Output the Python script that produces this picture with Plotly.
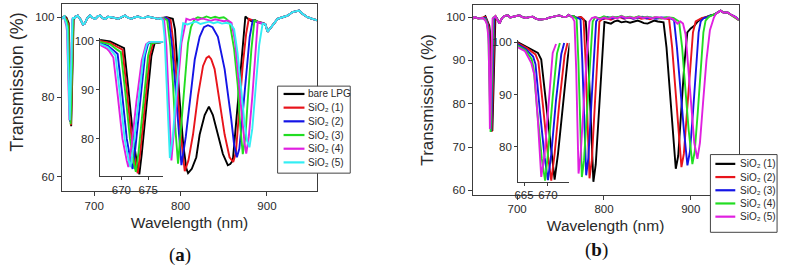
import plotly.graph_objects as go

W, H = 791, 270

# ---------------- Panel (a) data: wavelength (nm), transmission (%) ----------------
a_names = ["bare LPG", "SiO\u2082 (1)", "SiO\u2082 (2)", "SiO\u2082 (3)", "SiO\u2082 (4)", "SiO\u2082 (5)"]
a_colors = ["#000000", "#e8141b", "#1414e6", "#22dd22", "#e020e0", "#33eef4"]

a_base_left = [(662.4, 99.7), (664.0, 100.1), (665.5, 100.2)]

a_bare_670 = [(666.0, 100.2), (667.9, 99.9), (669.8, 98.9), (670.5, 98.5), (671.3, 90.2), (672.2, 80.2),
              (673.0, 74.2), (673.35, 72.7), (673.8, 76.9), (674.7, 86.9), (675.6, 96.9), (676.2, 99.5),
              (677.8, 99.8)]
a_s1_670 = [(666.0, 100.0), (667.9, 99.6), (669.5, 98.6), (670.2, 98.2), (671.0, 90.0), (671.9, 80.0),
            (672.7, 74.3), (673.05, 72.9), (673.5, 77.0), (674.4, 87.0), (675.3, 96.9), (675.9, 99.5),
            (677.8, 99.8)]
a_s2_670 = [(666.0, 99.6), (667.5, 99.0), (668.6, 98.0), (669.3, 97.3), (670.1, 89.6), (671.0, 80.0),
            (671.8, 75.0), (672.1, 73.8), (672.6, 78.0), (673.5, 88.0), (674.4, 97.0), (675.0, 99.5),
            (677.8, 99.8)]
a_s3_670 = [(666.0, 99.8), (667.9, 99.3), (669.2, 98.2), (669.9, 97.7), (670.7, 89.8), (671.6, 80.0),
            (672.4, 74.5), (672.7, 73.2), (673.2, 77.2), (674.1, 87.2), (675.0, 97.0), (675.6, 99.5),
            (677.8, 99.8)]
a_s4_670 = [(666.0, 99.2), (667.3, 98.4), (667.8, 97.8), (668.5, 96.6), (669.3, 89.0), (670.2, 80.0),
            (671.0, 75.5), (671.3, 74.2), (671.9, 78.6), (672.8, 87.5), (673.8, 96.0), (674.6, 99.3),
            (675.2, 99.8), (677.8, 99.8)]
a_s5_670 = [(666.0, 99.4), (667.5, 98.7), (668.2, 97.9), (668.9, 97.0), (669.7, 89.4), (670.6, 80.0),
            (671.4, 75.3), (671.7, 74.2), (672.25, 78.4), (673.2, 88.0), (674.1, 96.5), (674.8, 99.4),
            (675.4, 99.8), (677.8, 99.8)]

a_base_mid = [(678.5, 100.2), (681.0, 100.4), (684.0, 99.5), (687.0, 98.2), (689.0, 98.4), (692.0, 99.8),
              (695.4, 100.5), (698.0, 99.9), (701.2, 99.6), (704.0, 100.2), (707.0, 100.4), (710.0, 99.8),
              (712.7, 99.6), (716.0, 100.1), (720.3, 100.0), (724.0, 99.8), (728.0, 99.6), (732.0, 100.1),
              (735.7, 100.4), (739.0, 99.9), (743.3, 99.6), (747.0, 100.0), (751.0, 100.2), (755.0, 99.8),
              (758.8, 99.9), (762.0, 100.2), (766.4, 100.0), (770.0, 99.8), (774.0, 99.6), (777.0, 99.8)]

a_bare_main = [(780, 99.8), (784, 100.0), (788, 99.7), (791, 99.6), (793.5, 97.0), (795.2, 91.0), (799, 79.0),
               (803, 68.2), (806.7, 62.1), (808.7, 60.9), (813, 62.0), (818.2, 64.9), (822.1, 70.6),
               (827.9, 75.5), (832.8, 77.6), (837.4, 75.5), (843.2, 70.6), (849, 65.7), (854.7, 62.9),
               (857.5, 63.2), (860.5, 64.1), (866.2, 78.8), (870, 89.0), (873, 96.0), (875, 100.2),
               (878, 99.6), (882, 99.0), (886, 99.3), (890, 98.8), (895, 98.6), (898, 98.3)]
a_s1_main = [(780, 99.8), (784, 99.9), (788.5, 99.3), (792, 93.0), (796, 83.0), (800, 71.0), (804.8, 61.4),
             (809, 64.0), (814.4, 70.6), (820.2, 80.4), (826, 87.8), (830, 89.8), (832.8, 90.2), (835.5, 89.5),
             (839.4, 87.0), (845.2, 78.8), (851, 70.6), (856.7, 64.9), (861, 63.7), (864, 66.0), (868.2, 78.8),
             (872, 88.0), (876, 96.0), (879, 99.6), (883, 99.3), (888, 99.0), (893, 98.6), (898, 98.3)]
a_s2_main = [(780, 99.8), (783, 99.9), (786.5, 99.3), (790, 93.0), (793.5, 84.0), (797, 73.0), (801, 62.9),
             (806, 70.0), (810.6, 78.8), (816.4, 89.4), (822.1, 95.1), (827, 97.5), (831.7, 98.0), (837, 97.5),
             (843.2, 95.1), (851, 87.0), (858.5, 74.7), (862, 68.0), (865.2, 64.9), (868, 67.0), (872, 76.0),
             (876, 86.0), (880, 95.0), (883.5, 99.2), (888, 98.8), (893, 98.5), (898, 98.3)]
a_s3_main = [(780, 99.8), (784.5, 99.3), (788, 93.0), (791, 84.0), (794, 72.0), (797.1, 63.3), (802.9, 78.8),
             (808.6, 93.5), (812, 97.5), (816.4, 99.6), (820, 100.0), (825, 99.7), (830, 100.2), (835, 99.8),
             (840, 100.1), (845, 99.8), (850, 100.0), (853, 99.6), (857, 98.5), (862, 92.0), (866.2, 82.9),
             (869, 73.0), (872, 65.7), (875, 70.0), (878, 80.0), (882, 92.0), (885.5, 99.2), (890, 98.8),
             (895, 98.4), (898, 98.3)]
a_s4_main = [(780, 99.6), (781, 99.3), (783.5, 93.0), (786, 81.0), (788.3, 69.0), (789.4, 64.1), (795.2, 78.8),
             (801, 93.5), (806.7, 99.6), (811, 99.3), (815, 99.6), (820, 99.3), (825, 99.7), (830, 99.4),
             (835, 99.1), (840, 99.5), (845, 99.3), (850, 99.0), (855, 99.2), (859, 98.6), (863, 94.0),
             (867, 85.0), (871, 75.0), (874, 68.5), (876, 65.8), (879, 70.0), (883, 80.0), (886.5, 92.0),
             (889.3, 98.8), (894, 98.5), (898, 98.3)]
a_s5_main = [(779.5, 99.2), (781.5, 95.0), (784, 84.0), (786, 72.0), (787.6, 64.7), (791, 70.0), (795, 80.0),
             (799, 92.0), (803, 98.5), (808, 98.2), (813, 98.6), (818, 98.9), (823, 98.3), (828, 98.6),
             (833, 98.9), (838, 98.5), (843, 98.8), (848, 98.4), (853, 98.6), (858, 98.3), (862, 97.0),
             (866, 91.0), (870, 82.0), (874, 73.5), (877, 69.0), (879.7, 67.4), (883, 72.0), (887, 82.0),
             (891, 93.0), (895, 98.4), (898, 98.3)]

a_base_right = [(900.8, 96.4), (906.6, 98.0), (912.3, 99.6), (918.0, 100.0), (923.8, 100.4), (929.6, 101.3),
                (937.3, 101.7), (941.0, 100.9), (946.9, 100.0), (952.6, 99.6), (958.4, 99.2)]

a_dips670 = [a_bare_670, a_s1_670, a_s2_670, a_s3_670, a_s4_670, a_s5_670]
a_mains = [a_bare_main, a_s1_main, a_s2_main, a_s3_main, a_s4_main, a_s5_main]

# ---------------- Panel (b) data ----------------
b_names = ["SiO\u2082 (1)", "SiO\u2082 (2)", "SiO\u2082 (3)", "SiO\u2082 (4)", "SiO\u2082 (5)"]
b_colors = ["#000000", "#e8141b", "#1414e6", "#22dd22", "#e020e0"]

b_base_left = [(648.0, 99.6), (651.0, 100.0), (655.0, 99.7), (660.5, 99.8)]

b_s1_670 = [(663.4, 100.2), (665.8, 99.1), (667.9, 98.0), (668.6, 96.7), (669.6, 88.0), (670.7, 78.6),
            (671.4, 73.7), (672.1, 78.6), (673.1, 88.0), (674.2, 97.4), (674.6, 99.9)]
b_s2_670 = [(663.4, 100.0), (665.6, 98.9), (667.4, 97.7), (668.0, 96.3), (669.0, 87.5), (670.0, 78.3),
            (670.7, 73.5), (671.4, 78.6), (672.4, 88.5), (673.5, 97.6), (674.1, 99.9)]
b_s3_670 = [(663.4, 99.8), (665.4, 98.7), (666.9, 97.3), (667.4, 95.8), (668.3, 87.0), (669.3, 78.0),
            (670.0, 73.6), (670.7, 78.6), (671.7, 89.0), (672.8, 97.8), (673.4, 99.9)]
b_s4_670 = [(663.4, 99.5), (665.3, 98.5), (666.6, 96.8), (667.0, 95.0), (667.8, 86.5), (668.7, 77.8),
            (669.4, 73.5), (670.0, 78.6), (671.0, 89.5), (671.9, 97.9), (672.5, 99.9)]
b_s5_670 = [(663.4, 99.2), (665.2, 98.3), (666.5, 96.1), (667.2, 93.6), (667.9, 84.9), (668.6, 74.2),
            (669.3, 78.6), (670.3, 91.1), (671.0, 98.0), (671.7, 99.7)]

b_base_mid = [(675.0, 100.2), (677.0, 99.6), (679.7, 98.5), (681.5, 99.4), (683.5, 100.0), (686.0, 100.3),
              (689.2, 100.4), (692.0, 99.9), (695.0, 100.0), (699.0, 100.3), (702.6, 100.4), (706.0, 100.0),
              (710.3, 99.8), (714.0, 100.0), (717.9, 100.1), (721.0, 99.7), (725.6, 99.4), (729.0, 99.5),
              (733.3, 99.6), (737.0, 99.9), (740.8, 100.1), (744.0, 100.3), (748.5, 100.4), (752.0, 100.1),
              (756.2, 100.0), (759.0, 100.5), (762.0, 100.2)]

b_s1_main = [(765, 100.2), (769, 99.8), (773, 100.0), (776, 99.5), (779, 99.0), (782, 90.0), (785, 75.0),
             (787.8, 62.0), (790.5, 66.0), (793.5, 76.0), (797, 89.0), (800.5, 98.9), (804, 98.7), (808, 98.5),
             (812, 99.0), (816, 99.2), (820, 98.8), (825, 99.0), (830, 98.7), (835, 98.9), (838.8, 99.2),
             (842.8, 98.9), (846, 98.6), (850.2, 98.5), (854, 98.8), (857.8, 99.2), (862, 99.0), (866, 98.8),
             (868.6, 98.8), (872, 93.0), (875.5, 84.0), (879, 74.0), (882.7, 65.0), (885.5, 68.0), (889, 78.0),
             (892.5, 89.0), (896, 96.5), (899.9, 97.4), (904, 98.0), (908, 99.0), (912, 99.6), (917, 100.0),
             (922.8, 100.4), (926, 100.5)]
b_s2_main = [(765, 100.2), (769, 99.8), (772, 100.0), (774, 100.0), (776.5, 99.5), (779, 89.0), (781.2, 75.0),
             (783.3, 62.8), (786, 67.0), (789, 77.0), (792, 89.0), (794.7, 99.0), (798, 99.5), (803, 99.7),
             (808, 99.4), (813, 99.8), (818, 100.0), (823, 99.6), (828, 99.9), (833, 99.7), (838, 100.0),
             (843, 99.6), (848, 99.8), (853, 99.5), (858, 99.9), (863, 99.7), (870, 99.7), (875, 99.5),
             (878.5, 93.0), (882, 84.0), (885.5, 74.0), (889.2, 65.4), (892, 68.5), (895.5, 78.0), (899, 89.0),
             (902.5, 96.5), (905.6, 99.0), (909, 99.4), (913, 99.8), (918, 100.0), (922.8, 100.4), (926, 100.5)]
b_s3_main = [(765, 100.2), (768, 99.8), (770, 99.8), (773, 99.5), (775, 90.0), (777.3, 76.0), (779.5, 63.5),
             (782, 67.5), (785, 77.0), (788, 89.0), (791, 99.0), (794, 99.8), (799, 99.6), (804, 100.0),
             (809, 99.7), (814, 99.9), (819, 100.1), (824, 99.7), (829, 100.0), (834, 99.6), (839, 99.9),
             (844, 100.1), (849, 99.7), (854, 99.9), (860, 99.6), (866, 99.9), (875, 99.8), (880.7, 99.3),
             (884, 93.0), (887.5, 84.0), (892, 74.0), (896.1, 65.8), (899, 69.0), (902.5, 78.0), (906, 89.0),
             (909, 96.5), (911.4, 99.0), (915, 99.8), (919, 100.0), (922.8, 100.4), (926, 100.5)]
b_s4_main = [(765, 100.2), (766, 100.0), (768.5, 99.5), (770.5, 90.0), (772.5, 76.0), (774.5, 63.1),
             (777, 67.0), (780, 76.0), (783.5, 88.0), (787, 99.0), (790, 100.0), (795, 99.7), (800, 100.2),
             (805, 99.8), (810, 100.1), (815, 99.9), (820, 100.3), (825, 99.9), (830, 100.1), (835, 99.8),
             (840, 100.2), (845, 99.9), (850, 100.1), (855, 99.8), (860, 100.0), (866, 99.7), (872, 100.0),
             (880, 99.8), (886.5, 99.0), (890, 93.0), (893.5, 84.0), (897.5, 74.0), (901.8, 66.1), (904.5, 69.0),
             (908, 78.0), (911.5, 89.0), (914.5, 96.5), (917, 99.2), (920, 99.9), (923, 100.3), (926, 100.5)]
b_s5_main = [(764.0, 99.8), (766.0, 99.0), (768.0, 88.0), (769.5, 75.0), (770.7, 63.9), (773.0, 68.0),
             (776.0, 78.0), (779.5, 89.0), (783.3, 99.0), (786.0, 99.8), (790.0, 100.0), (795.0, 99.5),
             (800.0, 99.9), (805.0, 99.6), (810.0, 100.0), (815.0, 99.7), (820.0, 100.2), (825.0, 99.8),
             (830.0, 100.0), (835.0, 99.7), (840.0, 100.1), (845.0, 99.8), (850.0, 100.0), (855.0, 99.7),
             (860.0, 100.0), (865.0, 99.9), (870.0, 99.6), (875.0, 99.9), (880.0, 99.5), (884.6, 98.5),
             (888.0, 99.0), (891.0, 98.5), (894.0, 96.0), (897.0, 89.0), (900.5, 80.0), (904.0, 71.0),
             (907.6, 67.3), (910.5, 71.0), (914.0, 80.0), (918.0, 90.0), (922.0, 97.0), (926.6, 99.9)]

b_base_right = [(929.0, 100.8), (934.3, 101.5), (938.0, 101.0), (942.0, 101.1), (946.0, 100.6),
                (951.5, 100.0), (955.5, 99.3)]

b_dips670 = [b_s1_670, b_s2_670, b_s3_670, b_s4_670, b_s5_670]
b_mains = [b_s1_main, b_s2_main, b_s3_main, b_s4_main, b_s5_main]

# ---------------- helpers ----------------
def px(x):
    return x / W


def py(y):
    return 1 - y / H


def split(points):
    return [p[0] for p in points], [p[1] for p in points]


FONT = "Liberation Sans, Arial, sans-serif"
AX = "#3c3c3c"
TXT = "#2a2a2a"
LW = 1.9

fig = go.Figure()

for i in range(6):
    pts = a_base_left + a_dips670[i] + a_base_mid + a_mains[i] + a_base_right
    x, y = split(pts)
    fig.add_trace(go.Scatter(x=x, y=y, mode="lines", name=a_names[i], showlegend=False,
                             line=dict(color=a_colors[i], width=LW), xaxis="x", yaxis="y"))
for i in range(6):
    x, y = split(a_dips670[i])
    fig.add_trace(go.Scatter(x=x, y=y, mode="lines", name=a_names[i], showlegend=False,
                             line=dict(color=a_colors[i], width=LW), xaxis="x2", yaxis="y2"))
for i in range(5):
    pts = b_base_left + b_dips670[i] + b_base_mid + b_mains[i] + b_base_right
    x, y = split(pts)
    fig.add_trace(go.Scatter(x=x, y=y, mode="lines", name=b_names[i], showlegend=False,
                             line=dict(color=b_colors[i], width=LW), xaxis="x3", yaxis="y3"))
for i in range(5):
    x, y = split(b_dips670[i])
    fig.add_trace(go.Scatter(x=x, y=y, mode="lines", name=b_names[i], showlegend=False,
                             line=dict(color=b_colors[i], width=LW), xaxis="x4", yaxis="y4"))


def main_axis(domain, rng, tickvals, anchor, title=None, standoff=6, tsize=16):
    d = dict(domain=domain, range=rng, tickvals=tickvals, ticks="outside", ticklen=4, tickwidth=1,
             tickcolor=AX, showline=True, linecolor=AX, linewidth=1, mirror=True, showgrid=False,
             zeroline=False, anchor=anchor, tickfont=dict(family=FONT, size=11.5, color=TXT))
    if title:
        d["title"] = dict(text=title, standoff=standoff, font=dict(family=FONT, size=tsize, color=TXT))
    return d


def inset_axis(domain, rng, tickvals, anchor):
    return dict(domain=domain, range=rng, tickvals=tickvals, ticks="outside", ticklen=3, tickwidth=1,
                tickcolor=AX, showline=True, linecolor=AX, linewidth=1, mirror=False, showgrid=False,
                zeroline=False, anchor=anchor, tickfont=dict(family=FONT, size=11.5, color=TXT))


shapes = []
annotations = []


def legend(box, line_x, text_x, ys, names, colors, size):
    x0, y0, x1, y1 = box
    shapes.append(dict(type="rect", xref="paper", yref="paper", x0=px(x0), x1=px(x1), y0=py(y1), y1=py(y0),
                       line=dict(color="#444444", width=1), fillcolor="white", layer="above"))
    for yy, nm, c in zip(ys, names, colors):
        shapes.append(dict(type="line", xref="paper", yref="paper", x0=px(line_x[0]), x1=px(line_x[1]),
                           y0=py(yy), y1=py(yy), line=dict(color=c, width=2.2), layer="above"))
        annotations.append(dict(xref="paper", yref="paper", x=px(text_x), y=py(yy), text=nm, showarrow=False,
                                xanchor="left", yanchor="middle", font=dict(family=FONT, size=size, color=TXT)))


legend((275, 84, 348, 173), (281, 302), 303.5, [92, 106, 120, 134, 148, 162], a_names, a_colors, 10)
legend((710, 154, 777, 233.5), (715, 735), 737.5, [163.5, 177, 190.5, 204, 217.5], b_names, b_colors, 10)

# y-axis title of panel (a) sits above the axis centre in the reference
annotations.append(dict(xref="paper", yref="paper", x=px(13.5), y=py(80), text="Transmission (%)",
                        showarrow=False, textangle=-90, xanchor="center", yanchor="middle",
                        font=dict(family=FONT, size=18, color=TXT)))
annotations.append(dict(xref="paper", yref="paper", x=px(176.5), y=py(256.5), text="(<b>a</b>)", showarrow=False,
                        xanchor="center", yanchor="middle",
                        font=dict(family="Liberation Serif, serif", size=19, color="#111")))
annotations.append(dict(xref="paper", yref="paper", x=px(595.5), y=py(252), text="(<b>b</b>)", showarrow=False,
                        xanchor="center", yanchor="middle",
                        font=dict(family="Liberation Serif, serif", size=19, color="#111")))

fig.update_layout(
    width=W, height=H, margin=dict(l=0, r=0, t=0, b=0),
    paper_bgcolor="white", plot_bgcolor="rgba(0,0,0,0)", showlegend=False,
    xaxis=main_axis([px(58), px(315)], [662.4, 958.4], [700, 800, 900], "y", "Wavelength (nm)", 6, 15.5),
    yaxis=main_axis([py(191), py(0.5)], [56.5, 103.2], [60, 80, 100], "x"),
    xaxis2=inset_axis([px(96.7), px(160)], [666.05, 677.8], [670, 675], "y2"),
    yaxis2=inset_axis([py(176), py(35)], [72.34, 100.54], [80, 90, 100], "x2"),
    xaxis3=main_axis([px(471), px(738.3)], [648.7, 955.0], [700, 800, 900], "y3", "Wavelength (nm)", 5, 15.5),
    yaxis3=main_axis([py(195), py(1)], [59.03, 102.8], [60, 70, 80, 90, 100], "x3", "Transmission (%)", 8, 17),
    xaxis4=inset_axis([px(516.7), px(568.3)], [663.75, 674.5], [665, 670], "y4"),
    yaxis4=inset_axis([py(181.7), py(37)], [73.3, 100.43], [80, 90, 100], "x4"),
    shapes=shapes, annotations=annotations,
)

fig.write_html("out.html")
